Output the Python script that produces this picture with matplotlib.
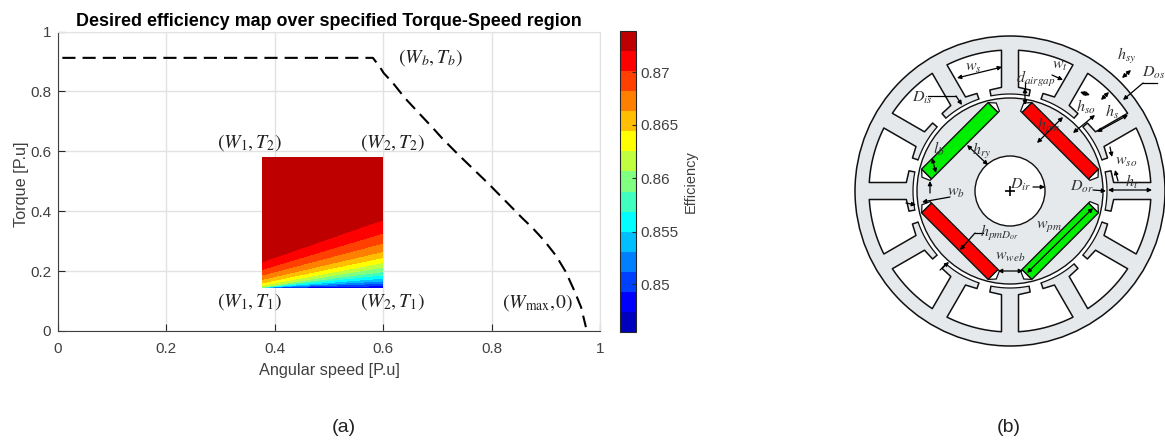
import numpy as np
import matplotlib
matplotlib.use('Agg')
import matplotlib.pyplot as plt
from matplotlib.patches import Circle, Polygon

plt.rcParams['font.family'] = ['Liberation Sans', 'DejaVu Sans']
plt.rcParams['mathtext.fontset'] = 'stix'

# torque-speed envelope
speed = [0.008, 0.581, 0.594, 0.601, 0.618, 0.640, 0.662, 0.690, 0.710, 0.738, 0.766, 0.793, 0.830, 0.843, 0.856, 0.875, 0.897, 0.919, 0.937, 0.952, 0.965, 0.974]
torque = [0.912, 0.912, 0.881, 0.861, 0.828, 0.778, 0.735, 0.681, 0.641, 0.590, 0.541, 0.494, 0.426, 0.402, 0.378, 0.345, 0.302, 0.251, 0.197, 0.137, 0.080, 0.013]

# efficiency map, band edges read at both sides of the region
w1, w2 = 0.377, 0.598
t_top, t_bottom = 0.578, 0.144
eff_levels = [0.8455, 0.8474, 0.8493, 0.8512, 0.8531, 0.8550, 0.8569, 0.8588, 0.8606, 0.8625, 0.8644, 0.8663, 0.8682, 0.8701, 0.8720, 0.8739]
edges_w1 = [0.2315, 0.206, 0.187, 0.1725, 0.161, 0.1525, 0.147, 0.1458, 0.1454, 0.1451, 0.1448, 0.1446, 0.1444, 0.1442]
edges_w2 = [0.3706, 0.326, 0.293, 0.265, 0.245, 0.228, 0.2126, 0.198, 0.187, 0.176, 0.167, 0.159, 0.151, 0.1446]
band_colors = ['#0000bf', '#0000ff', '#0040ff', '#0080ff', '#00bfff', '#00ffff', '#40ffbf', '#80ff80',
               '#bfff40', '#ffff00', '#ffbf00', '#ff8000', '#ff4000', '#ff0000', '#bf0000']
cbar_ticks = [0.85, 0.855, 0.86, 0.865, 0.87]
cbar_labels = ['0.85', '0.855', '0.86', '0.865', '0.87']

# corner labels, in data coordinates of the map
corner_labels = [
    (r'$\left(W_1,T_2\right)$', 0.354, 0.63),
    (r'$\left(W_2,T_2\right)$', 0.618, 0.63),
    (r'$\left(W_1,T_1\right)$', 0.354, 0.097),
    (r'$\left(W_2,T_1\right)$', 0.618, 0.097),
    (r'$\left(W_b,T_b\right)$', 0.688, 0.912),
    (r'$\left(W_{\mathrm{max}},\!0\right)$', 0.885, 0.094),
]

# motor geometry, in pixels about the shaft centre
cx, cy = 1010, 191
r_out, r_slot, r_tip, r_tip_edge, r_bore, r_rotor, r_shaft = 155, 141, 104, 103, 97, 93, 35
tooth_half = 8.5
open_half = 3.7
n_slots = 12
mag_in, mag_out, mag_half = 64, 78, 47
mag_angles = [45, 135, 225, 315]
mag_colors = ['#ff0000', '#00ee00', '#ff0000', '#00ee00']
pocket = [(47, 78), (52.5, 72), (49, 64), (47, 64)]

motor_labels = [
    (r'$h_{sy}$', 1127, 56), (r'$D_{os}$', 1154, 73), (r'$w_t$', 1060, 66), (r'$d_{airgap}$', 1036, 79),
    (r'$h_{so}$', 1086, 107), (r'$h_s$', 1112, 112), (r'$h_{pm}$', 1049, 126), (r'$w_{so}$', 1126, 162),
    (r'$h_t$', 1132, 182), (r'$D_{ir}$', 1021, 185), (r'$D_{or}$', 1082, 187), (r'$w_s$', 973, 68),
    (r'$D_{is}$', 922, 98), (r'$l_b$', 939, 149), (r'$h_{ry}$', 982, 151), (r'$w_b$', 956, 193),
    (r'$h_{pmD_{or}}$', 999, 233), (r'$w_{web}$', 1010, 257), (r'$w_{pm}$', 1049, 227),
]
two_way = [
    (1122, 78, 1131, 70), (1080, 92, 1090, 95), (1101, 100, 1109, 92), (1073, 133, 1095, 115),
    (1097, 132, 1128, 115), (1037, 143, 1063, 117), (1108, 190, 1152, 190), (957, 78, 1002, 67),
    (932, 158, 936, 173), (967, 145, 988, 165), (1025, 88, 1025, 105), (998, 271, 1023, 271),
    (1027, 273, 1093, 208),
]
one_way = [
    (1143, 83, 1123, 100), (1052, 75, 1063, 80), (1110, 147, 1112, 157), (1118, 181, 1115, 170),
    (1033, 187, 1045, 187), (1093, 190, 1106, 191), (956, 96, 962, 105), (930, 193, 930, 181),
    (950, 197, 922, 202), (906, 203, 916, 205), (975, 233, 960, 250), (940, 270, 949, 262),
]
leaders = [
    (1143, 83, 1157, 83), (1025, 82, 1025, 88), (928, 96, 956, 96), (983, 233, 975, 233),
]

fig = plt.figure(figsize=(11.65, 4.41), dpi=100)
W, H = 1165.0, 441.0


def box(x0, y0, x1, y1):
    return [x0 / W, 1 - y1 / H, (x1 - x0) / W, (y1 - y0) / H]


ax = fig.add_axes(box(58, 31.5, 600, 331))
z_rows = [eff_levels[-1] - 0.0003] + eff_levels[-2:0:-1] + [eff_levels[0] + 0.0003]
t_left = [t_top] + edges_w1 + [t_bottom]
t_right = [t_top] + edges_w2 + [t_bottom]
X = np.array([[w1, w2]] * len(z_rows))
Y = np.column_stack([t_left, t_right])
Z = np.column_stack([z_rows, z_rows])
cf = ax.contourf(X, Y, Z, levels=eff_levels, colors=band_colors, zorder=2)
ax.plot(speed, torque, color='black', lw=1.5, dashes=(6.3, 3.4), zorder=3)
ax.set_xlim(0, 1)
ax.set_ylim(0, 1)
ax.set_xticks([0, 0.2, 0.4, 0.6, 0.8, 1])
ax.set_xticklabels(['0', '0.2', '0.4', '0.6', '0.8', '1'])
ax.set_yticks([0, 0.2, 0.4, 0.6, 0.8, 1])
ax.set_yticklabels(['0', '0.2', '0.4', '0.6', '0.8', '1'])
ax.grid(True, color='#e2e2e2', lw=1)
ax.set_axisbelow(True)
ax.tick_params(direction='in', length=5, width=0.8, color='#262626', labelcolor='#404040', labelsize=11, pad=5)
ax.tick_params(axis='x', pad=8)
for s in ['top', 'right']:
    ax.spines[s].set_color('#e2e2e2')
for s in ['left', 'bottom']:
    ax.spines[s].set_color('#404040')
ax.set_xlabel('Angular speed [P.u]', fontsize=11.7, color='#404040', labelpad=4.6)
ax.set_ylabel('Torque [P.u]', fontsize=11.7, color='#404040', labelpad=1, y=0.49)
ax.set_title('Desired efficiency map over specified Torque-Speed region', fontsize=12.9, fontweight='bold', pad=4)
for txt, tx, ty in corner_labels:
    ax.text(tx, ty, txt, fontsize=14.2, ha='center', va='center', color='#222222', zorder=4)

cax = fig.add_axes(box(619.5, 31, 636, 332))
cb = fig.colorbar(cf, cax=cax)
cb.set_ticks(cbar_ticks)
cb.set_ticklabels(cbar_labels)
cb.ax.minorticks_off()
cb.ax.tick_params(direction='in', length=3, width=0.8, color='#262626', labelcolor='#404040', labelsize=11, pad=3)
cb.outline.set_edgecolor('#262626')
cb.set_label('Efficiency', fontsize=10.5, color='#404040', labelpad=4)

# motor cross section, drawn over the whole figure in pixels
am = fig.add_axes([0, 0, 1, 1], facecolor='none')
am.set_xlim(-cx, W - cx)
am.set_ylim(cy - H, cy)
am.axis('off')


def pol(r, deg):
    return np.array([r * np.cos(np.radians(deg)), r * np.sin(np.radians(deg))])


def px(x, y):
    return x - cx, cy - y


grey = '#e6e9ec'
line = '#111111'
am.add_patch(Circle((0, 0), r_out, fc=grey, ec=line, lw=1.1, zorder=1))
for k in range(n_slots):
    a = 15 + k * 360.0 / n_slots
    right = []
    for side in [1, -1]:
        tooth = np.radians(a + side * 15)
        d = np.array([np.cos(tooth), np.sin(tooth)])
        n = np.array([np.sin(tooth), -np.cos(tooth)]) * side
        s_in = np.sqrt(r_tip ** 2 - tooth_half ** 2)
        s_out = np.sqrt(r_slot ** 2 - tooth_half ** 2)
        p_in = d * s_in + n * tooth_half
        p_out = d * s_out + n * tooth_half
        right.append((p_in, p_out, pol(r_tip_edge, a + side * open_half), pol(r_bore, a + side * open_half)))
    up, low = right
    ang_up = np.degrees(np.arctan2(up[1][1], up[1][0]))
    ang_low = np.degrees(np.arctan2(low[1][1], low[1][0]))
    ang_up = a + ((ang_up - a + 180) % 360 - 180)
    ang_low = a + ((ang_low - a + 180) % 360 - 180)
    arc = np.array([pol(r_slot, t) for t in np.linspace(ang_up, ang_low, 12)])
    pts = np.vstack([up[3], up[2], up[0], arc, low[0], low[2], low[3]])
    am.fill(pts[:, 0], pts[:, 1], color='white', lw=0, zorder=2)
    am.plot(pts[:, 0], pts[:, 1], color=line, lw=1.1, zorder=2.5)
am.add_patch(Circle((0, 0), r_bore, fc='white', ec='none', zorder=3))
for k in range(n_slots):
    a = 15 + k * 360.0 / n_slots
    arc = np.array([pol(r_bore, t) for t in np.linspace(a + open_half, a + 30 - open_half, 12)])
    am.plot(arc[:, 0], arc[:, 1], color=line, lw=0.9, zorder=4)
am.add_patch(Circle((0, 0), r_rotor, fc=grey, ec=line, lw=1.0, zorder=5))
am.add_patch(Circle((0, 0), r_shaft, fc='white', ec=line, lw=1.0, zorder=6))

for ang, col in zip(mag_angles, mag_colors):
    v = pol(1, ang)
    u = pol(1, ang + 90)
    corners = [v * mag_in + u * mag_half, v * mag_out + u * mag_half, v * mag_out - u * mag_half, v * mag_in - u * mag_half]
    for sign in [1, -1]:
        poly = [u * sign * pu + v * pv for pu, pv in pocket]
        am.add_patch(Polygon(poly, closed=True, fc='white', ec=line, lw=0.9, zorder=6))
    am.add_patch(Polygon(corners, closed=True, fc=col, ec=line, lw=1.0, zorder=7))

for x0, y0, x1, y1 in leaders:
    a0, a1 = px(x0, y0), px(x1, y1)
    am.plot([a0[0], a1[0]], [a0[1], a1[1]], color='black', lw=0.9, zorder=8)
for x0, y0, x1, y1 in two_way:
    am.annotate('', xy=px(x1, y1), xytext=px(x0, y0), zorder=8,
                arrowprops=dict(arrowstyle='<|-|>', color='black', lw=0.9, mutation_scale=6, shrinkA=0, shrinkB=0))
for x0, y0, x1, y1 in one_way:
    am.annotate('', xy=px(x1, y1), xytext=px(x0, y0), zorder=8,
                arrowprops=dict(arrowstyle='-|>', color='black', lw=0.9, mutation_scale=6, shrinkA=0, shrinkB=0))
am.plot([0], [0], marker='+', color='black', ms=7, mew=1.2, zorder=8)
for txt, tx, ty in motor_labels:
    xx, yy = px(tx, ty)
    am.text(xx, yy, txt, fontsize=11.5, ha='center', va='center', color='#333333', zorder=9)

fig.text(344 / W, 1 - 428 / H, '(a)', fontsize=14, ha='center', va='center', color='#222222')
fig.text(1009 / W, 1 - 428 / H, '(b)', fontsize=14, ha='center', va='center', color='#222222')

plt.savefig('out.png', dpi=100)
plt.close()
